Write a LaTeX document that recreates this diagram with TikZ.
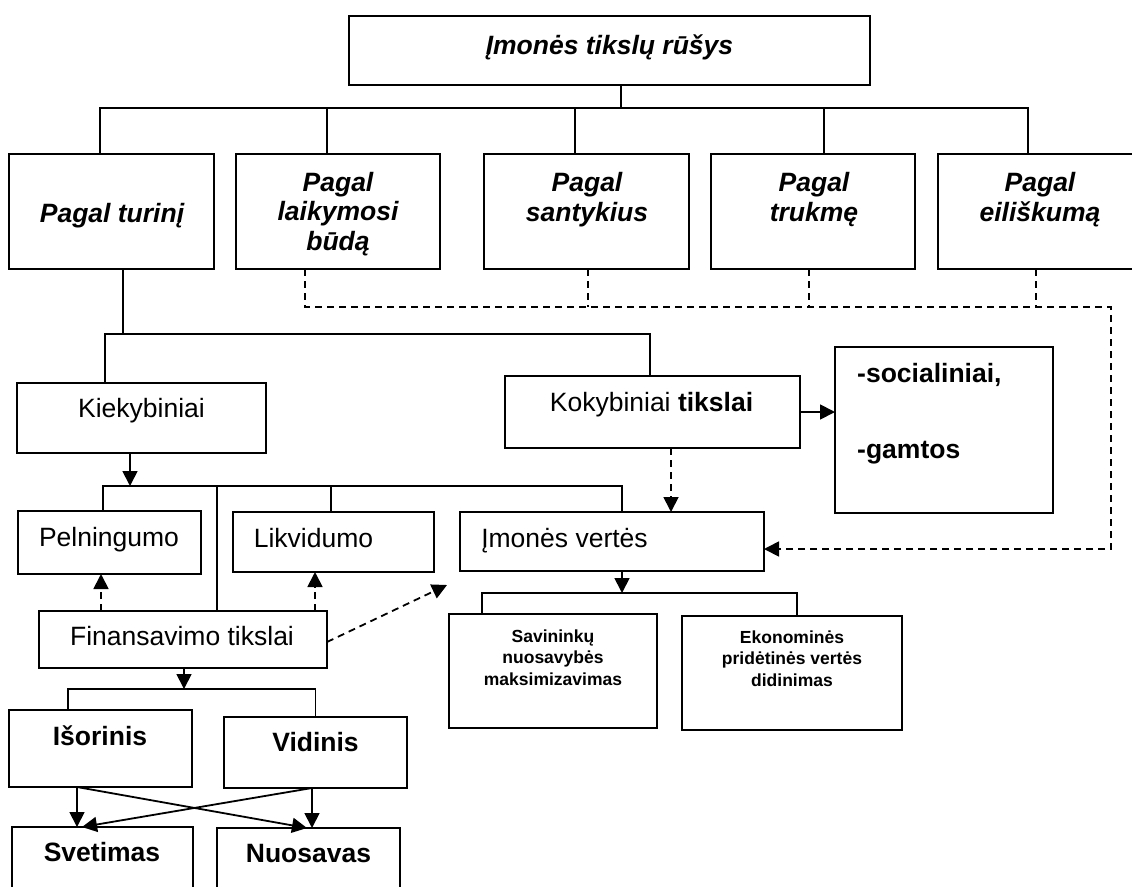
\documentclass[tikz,border=0pt]{standalone}
\usepackage{fontspec}
\setmainfont{Liberation Sans}
\usetikzlibrary{arrows.meta}

\tikzset{
  deze/.style={draw, line width=2pt, inner sep=0pt, outer sep=0pt},
  ryssys/.style={line width=1.8pt},
  bruks/.style={line width=1.8pt, dash pattern=on 7pt off 5pt},
  rodykle/.style={-{Triangle[length=15pt,width=15pt]}},
  antr/.style={font=\fontsize{26.5}{29.5}\selectfont\bfseries\itshape, align=center, inner sep=0pt, anchor=base},
  tekst/.style={font=\fontsize{26.5}{30}\selectfont, inner sep=0pt, anchor=base},
  ryskus/.style={font=\fontsize{26.5}{30}\selectfont\bfseries, inner sep=0pt, anchor=base},
  smulk/.style={font=\fontsize{17.5}{21.5}\selectfont\bfseries, align=center, inner sep=0pt, anchor=base}
}

\begin{document}
\begin{tikzpicture}[x=1pt, y=-1pt]
        \useasboundingbox (0,0) rectangle (1132,886);
        \clip (0,0) rectangle (1132,886);

        \node[deze, minimum width=521, minimum height=69] (virs) at (609.5,50.5) {};
        \node[deze, minimum width=205, minimum height=115] (turinys) at (111.5,211.5) {};
        \node[deze, minimum width=204, minimum height=115] (laikym) at (338,211.5) {};
        \node[deze, minimum width=205, minimum height=115] (santyk) at (586.5,211.5) {};
        \node[deze, minimum width=204, minimum height=115] (trukme) at (813,211.5) {};
        \node[deze, minimum width=204, minimum height=115] (eilisk) at (1040,211.5) {};
        \node[deze, minimum width=249, minimum height=70] (kiek) at (141.5,417.5) {};
        \node[deze, minimum width=295, minimum height=72] (kokyb) at (652.5,412) {};
        \node[deze, minimum width=218, minimum height=166] (soc) at (944,430) {};
        \node[deze, minimum width=183, minimum height=63] (peln) at (109.5,542.5) {};
        \node[deze, minimum width=201, minimum height=60] (likv) at (333.5,542) {};
        \node[deze, minimum width=304, minimum height=59] (vert) at (612,541.5) {};
        \node[deze, minimum width=288, minimum height=57] (fin) at (183,639.5) {};
        \node[deze, minimum width=208, minimum height=114] (sav) at (553,671) {};
        \node[deze, minimum width=220, minimum height=114] (eko) at (792,673) {};
        \node[deze, minimum width=183, minimum height=77] (isor) at (100.5,748.5) {};
        \node[deze, minimum width=183, minimum height=71] (vid) at (315.5,752.5) {};
        \node[deze, minimum width=181, minimum height=78] (svet) at (102.5,866) {};
        \node[deze, minimum width=183, minimum height=77] (nuos) at (308.5,866.5) {};

        \node[antr] (virs-t) at (609.5,54) {Įmonės tikslų rūšys};
        \node[antr] (turinys-t) at (112,222) {Pagal turinį};
        \node[antr] (laikym-t) at (338,250) {Pagal\\laikymosi\\būdą};
        \node[antr] (santyk-t) at (587,221) {Pagal\\santykius};
        \node[antr] (trukme-t) at (814,221) {Pagal\\trukmę};
        \node[antr] (eilisk-t) at (1040,221) {Pagal\\eiliškumą};
        \node[tekst] (kiek-t) at (141.5,417) {Kiekybiniai};
        \node[tekst] (kokyb-t) at (651.5,411) {Kokybiniai \textbf{tikslai}};
        \node[ryskus, anchor=base west] (soc-t1) at (857,382) {-socialiniai,};
        \node[ryskus, anchor=base west] (soc-t2) at (857,458) {-gamtos};
        \node[tekst] (peln-t) at (109,546) {Pelningumo};
        \node[tekst] (likv-t) at (313.5,547) {Likvidumo};
        \node[tekst] (vert-t) at (564.5,547) {Įmonės vertės};
        \node[tekst] (fin-t) at (182,645) {Finansavimo tikslai};
        \node[smulk] (sav-t) at (553,685) {Savininkų\\nuosavybės\\maksimizavimas};
        \node[smulk] (eko-t) at (792,686) {Ekonominės\\pridėtinės vertės\\didinimas};
        \node[ryskus] (isor-t) at (100,745) {Išorinis};
        \node[ryskus] (vid-t) at (315.5,751) {Vidinis};
        \node[ryskus] (svet-t) at (102,861) {Svetimas};
        \node[ryskus] (nuos-t) at (308.5,862) {Nuosavas};

        \coordinate (sak1) at (621,108);
        \coordinate (sak2) at (123,334);
        \coordinate (sak3) at (130,486);
        \coordinate (sak4) at (622,593);
        \coordinate (sak5) at (184,689);
        \coordinate (brk1) at (1111,307);

        \draw[ryssys] ([xshift=11.5pt]virs.south) -- (sak1);
        \draw[ryssys] ([xshift=-11.5pt]turinys.north) |- (sak1) -| ([xshift=-12pt]eilisk.north);
        \draw[ryssys] ([xshift=-11pt]laikym.north) -- ([xshift=-11pt]laikym.north |- sak1);
        \draw[ryssys] ([xshift=-11.5pt]santyk.north) -- ([xshift=-11.5pt]santyk.north |- sak1);
        \draw[ryssys] ([xshift=11pt]trukme.north) -- ([xshift=11pt]trukme.north |- sak1);

        \draw[bruks, rodykle] ([xshift=-33pt]laikym.south) |- (brk1) |- ([yshift=-7.5pt]vert.east);
        \draw[bruks] ([xshift=1.5pt]santyk.south) -- ([xshift=1.5pt]santyk.south |- brk1);
        \draw[bruks] ([xshift=-4pt]trukme.south) -- ([xshift=-4pt]trukme.south |- brk1);
        \draw[bruks] ([xshift=-4pt]eilisk.south) -- ([xshift=-4pt]eilisk.south |- brk1);

        \draw[ryssys] ([xshift=11.5pt]turinys.south) -- (sak2);
        \draw[ryssys] ([xshift=-36.5pt]kiek.north) |- (sak2) -| ([xshift=-2.5pt]kokyb.north);
        \draw[ryssys, rodykle] (kokyb.east) -- (kokyb.east -| soc.west);
        \draw[bruks, rodykle] ([xshift=18.5pt]kokyb.south) -- ([xshift=18.5pt]kokyb.south |- vert.north);

        \draw[ryssys, rodykle] ([xshift=-11.5pt]kiek.south) -- (sak3);
        \draw[ryssys] ([xshift=-6.5pt]peln.north) |- (sak3) -| ([xshift=10pt]vert.north);
        \draw[ryssys] ([xshift=34pt]fin.north) -- ([xshift=34pt]fin.north |- sak3);
        \draw[ryssys] ([xshift=-2.5pt]likv.north) -- ([xshift=-2.5pt]likv.north |- sak3);

        \draw[bruks, rodykle] ([xshift=-82pt]fin.north) -- ([xshift=-82pt]fin.north |- peln.south);
        \draw[bruks, rodykle] ([xshift=132pt]fin.north) -- ([xshift=132pt]fin.north |- likv.south);
        \draw[bruks, rodykle] ([yshift=-2.5pt]fin.east) -- ([xshift=-13pt,yshift=-14pt]vert.south west);

        \draw[ryssys, rodykle] ([xshift=10pt]vert.south) -- (sak4);
        \draw[ryssys] ([xshift=-71pt]sav.north) |- (sak4) -| ([xshift=5pt]eko.north);

        \draw[ryssys, rodykle] ([xshift=1pt]fin.south) -- (sak5);
        \draw[ryssys] ([xshift=-32.5pt]isor.north) |- (sak5) -| (vid.north);

        \draw[ryssys, rodykle] ([xshift=-23.5pt]isor.south) -- ([xshift=-25.5pt]svet.north);
        \draw[ryssys, rodykle] ([xshift=-23.5pt]isor.south) -- ([xshift=-1.5pt]nuos.north);
        \draw[ryssys, rodykle] ([xshift=-3.5pt]vid.south) -- ([xshift=3.5pt]nuos.north);
        \draw[ryssys, rodykle] ([xshift=-3.5pt]vid.south) -- ([xshift=-20.5pt]svet.north);
    \end{tikzpicture}
\end{document}
